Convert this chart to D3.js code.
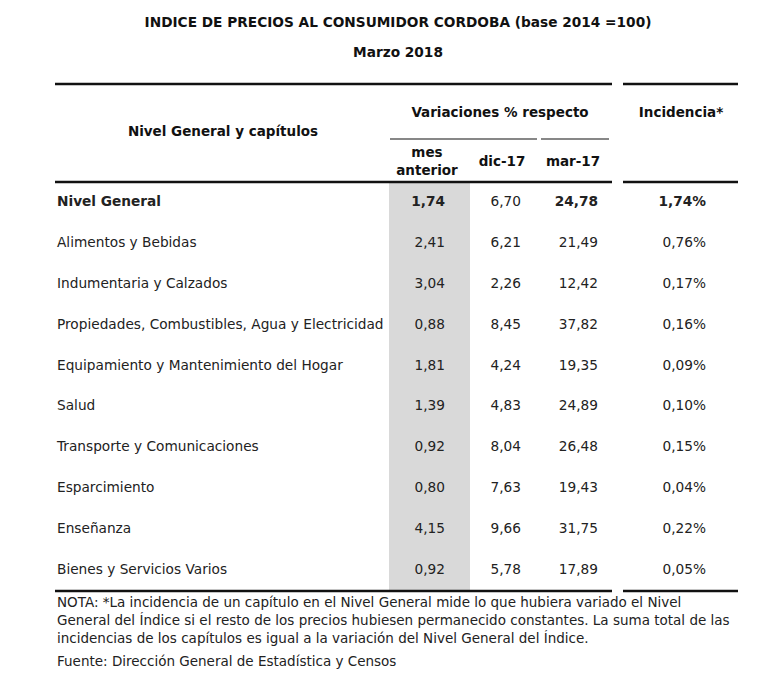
<!DOCTYPE html>
<html><head><meta charset="utf-8">
<script src="https://cdn.jsdelivr.net/npm/d3@7"></script>
<style>body{margin:0;background:#fff}</style>
</head><body>
<svg id="c" width="767" height="688"></svg>
<script>
const categories = ["Nivel General","Alimentos y Bebidas","Indumentaria y Calzados","Propiedades, Combustibles, Agua y Electricidad","Equipamiento y Mantenimiento del Hogar","Salud","Transporte y Comunicaciones","Esparcimiento","Enseñanza","Bienes y Servicios Varios"];
const mesAnterior = [1.74,2.41,3.04,0.88,1.81,1.39,0.92,0.80,4.15,0.92];
const dic17 = [6.70,6.21,2.26,8.45,4.24,4.83,8.04,7.63,9.66,5.78];
const mar17 = [24.78,21.49,12.42,37.82,19.35,24.89,26.48,19.43,31.75,17.89];
const incidencia = [1.74,0.76,0.17,0.16,0.09,0.10,0.15,0.04,0.22,0.05];
const columnHeaders = ["mes|anterior","dic-17","mar-17"];
const title = "INDICE DE PRECIOS AL CONSUMIDOR CORDOBA (base 2014 =100)";
const subtitle = "Marzo 2018";
const noteLines = ["NOTA: *La incidencia de un capítulo en el Nivel General mide lo que hubiera variado el Nivel",
 "General del Índice si el resto de los precios hubiesen permanecido constantes. La suma total de las",
 "incidencias de los capítulos es igual a la variación del Nivel General del Índice."];
const source = "Fuente: Dirección General de Estadística y Censos";

const svg = d3.select("#c");
const FONT = "'DejaVu Sans',sans-serif";
const fmt = v => d3.format(".2f")(v).replace(".", ",");

const y = d3.scalePoint().domain(categories).range([201, 569]);
const cols = d3.scaleOrdinal().domain(["mes","dic","mar","inc"]).range([445, 521, 598, 706]);

// gray column
svg.append("rect").attr("x",389).attr("y",183).attr("width",81).attr("height",407).attr("fill","#d9d9d9");

// title
svg.append("text").attr("x",398).attr("y",27).attr("text-anchor","middle").attr("font-family",FONT)
  .attr("font-weight","bold").attr("font-size",13.7).attr("fill","#111").text(title);
svg.append("text").attr("x",398).attr("y",57).attr("text-anchor","middle").attr("font-family",FONT)
  .attr("font-weight","bold").attr("font-size",13.7).attr("fill","#111").text(subtitle);

// rules
function rule(x1,x2,yy,w){svg.append("line").attr("x1",x1).attr("x2",x2).attr("y1",yy).attr("y2",yy).attr("stroke","#111").attr("stroke-width",w);}
[84,182,591].forEach(yy=>{rule(55,612,yy,2.5);rule(623,738,yy,2.5);});
rule(390,537,139,1.2); rule(541,609,139,1.2);

// header
const hdr = (t,x,yy,anchor="middle")=>svg.append("text").attr("x",x).attr("y",yy).attr("text-anchor",anchor)
  .attr("font-family",FONT).attr("font-weight","bold").attr("font-size",13.5).attr("fill","#111").text(t);
hdr("Nivel General y capítulos",223,136);
hdr("Variaciones % respecto",500,117);
hdr("Incidencia*",681,117);
const mh = columnHeaders[0].split("|");
hdr(mh[0],427,157); hdr(mh[1],427,175);
hdr(columnHeaders[1],502,166); hdr(columnHeaders[2],573,166);

// rows
const rows = svg.append("g").selectAll("g").data(categories).join("g")
  .attr("transform",d=>`translate(0,${y(d)+5})`)
  .attr("font-family",FONT).attr("font-size",13.7).attr("fill","#222")
  .attr("font-weight",(d,i)=>i===0?"bold":"normal");
rows.append("text").attr("x",57).text(d=>d);
rows.append("text").attr("x",cols("mes")).attr("text-anchor","end").text((d,i)=>fmt(mesAnterior[i]));
rows.append("text").attr("x",cols("dic")).attr("text-anchor","end").attr("font-weight","normal").text((d,i)=>fmt(dic17[i]));
rows.append("text").attr("x",cols("mar")).attr("text-anchor","end").text((d,i)=>fmt(mar17[i]));
rows.append("text").attr("x",cols("inc")).attr("text-anchor","end").text((d,i)=>fmt(incidencia[i])+"%");

// notes
noteLines.forEach((t,i)=>svg.append("text").attr("x",57).attr("y",607+i*18).attr("font-family",FONT)
  .attr("font-size",13.5).attr("fill","#222").text(t));
svg.append("text").attr("x",57).attr("y",666).attr("font-family",FONT).attr("font-size",13.5).attr("fill","#222").text(source);
</script>
</body></html>
